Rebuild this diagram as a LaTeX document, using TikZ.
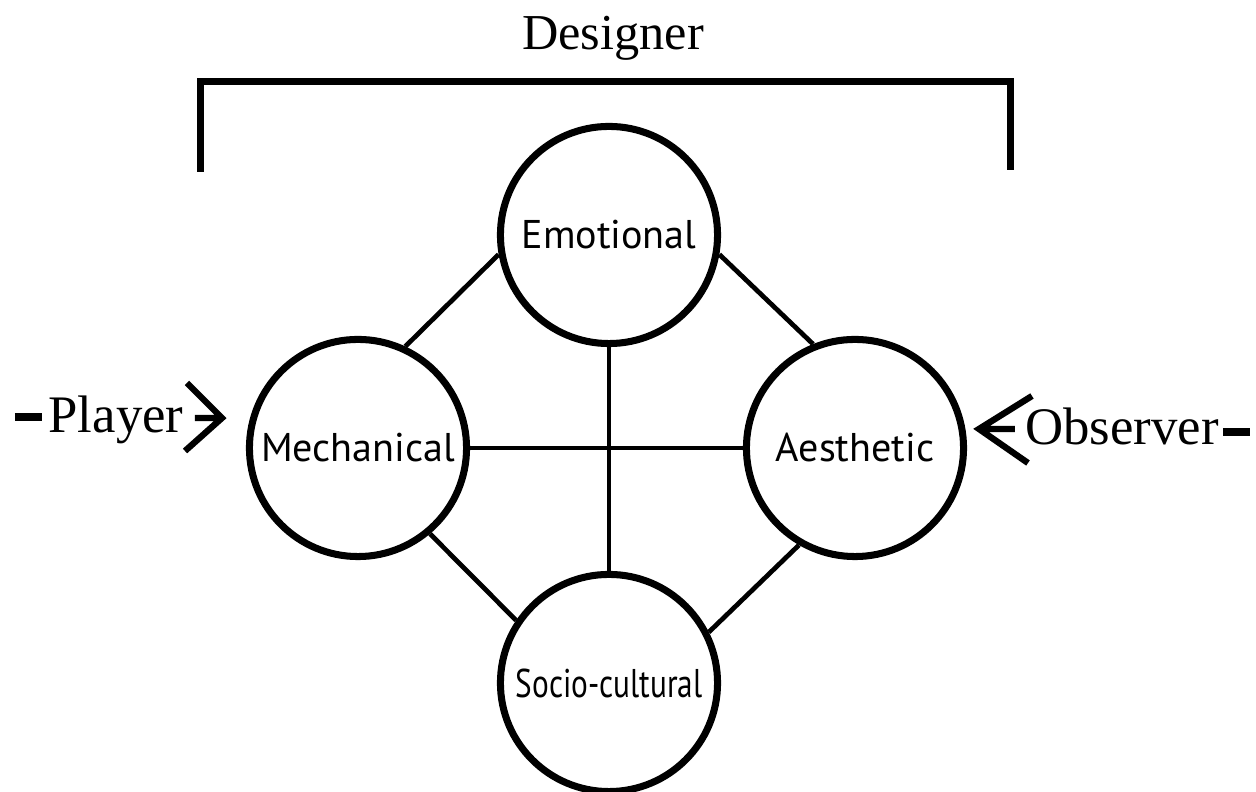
\documentclass[tikz,border=0pt]{standalone}
\usepackage{fontspec}
\usepackage{graphicx}
\setmainfont{Liberation Serif}
\newfontfamily\facetfont{PT Sans}
\begin{document}
\begin{tikzpicture}
    [ x=0.01cm, y=-0.01cm
    , facet/.style={draw, circle, line width=2pt, minimum size=2.17cm, inner sep=0pt,
                    font=\facetfont\fontsize{11.4}{13}\selectfont}
    , link/.style={line width=1.35pt}
    , role/.style={inner sep=0pt, anchor=base, font=\fontsize{15}{18}\selectfont}
    , barb/.style={line width=1.8pt, miter limit=20}
    , stub/.style={line width=2.4pt}
    ]
\useasboundingbox (0,0) rectangle (1256,792);
\node[role, font=\fontsize{14.3}{17}\selectfont] (designer) at (613,50) {Designer};
\draw[line width=2pt] (200.5,172) -- (200.5,81.5) -- (1010.5,81.5) -- (1010.5,170);

\node[facet] (emo)  at (609,235) {Emotional};
\node[facet] (mech) at (358,448) {Mechanical};
\node[facet] (aes)  at (855,448) {Aesthetic};
\node[facet] (soc)  at (609,683) {\scalebox{0.78}[1]{Socio-cultural}};

\draw[link] (mech.65)  -- (emo.190);
\draw[link] (emo.-10)  -- (aes.112);
\draw[link] (mech.-50) -- (soc.146);
\draw[link] (aes.240)  -- (soc.27);
\draw[link] (mech) -- (aes);
\draw[link] (emo) -- (soc);

% player side
\node[role] (player) at (116,433) {Player};
\coordinate (p-tip) at (222,418);
\draw[stub] (15,417) -- (42,417);
\draw[barb] (187,383) -- (p-tip) -- (185,451) (195,418) -- (p-tip);

% observer side
\node[role] (observer) at (1122,445) {Observer};
\coordinate (o-tip) at (979,429);
\draw[stub] (1223,432) -- (1250,432);
\draw[barb] (1032,396) -- (o-tip) -- (1028,463) (1015,429) -- (o-tip);
\end{tikzpicture}
\end{document}
